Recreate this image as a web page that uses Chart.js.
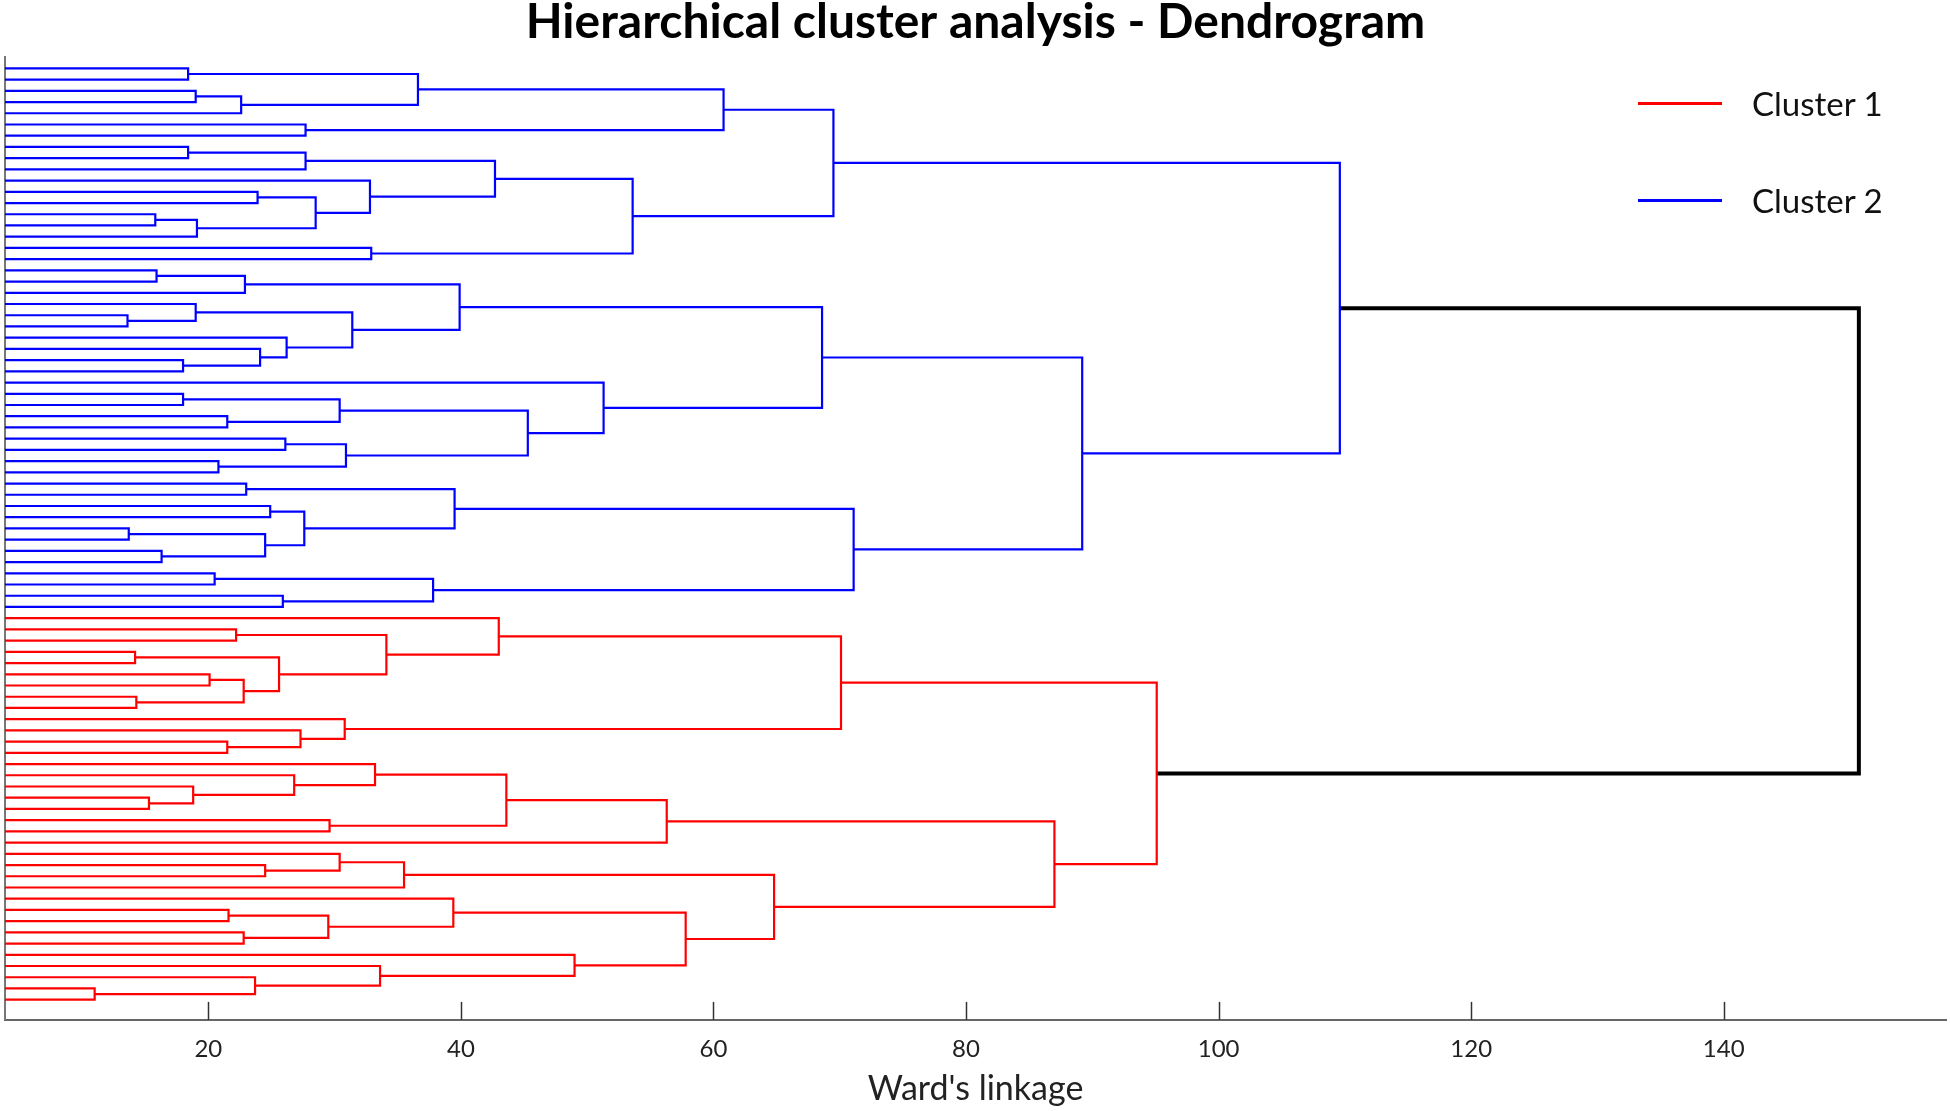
<!DOCTYPE html>
<html>
<head>
<meta charset="utf-8">
<title>Dendrogram</title>
<script src="https://cdn.jsdelivr.net/npm/chart.js@4.4.1/dist/chart.umd.min.js"></script>
<style>
  html, body { margin: 0; padding: 0; background: #fff; }
  #wrap { position: relative; width: 1950px; height: 1111px; }
  #legend { position: absolute; left: 0; top: 0; font-family: Lato, sans-serif; font-size: 33px; color: #111; }
  .item { position: absolute; display: flex; align-items: center; white-space: nowrap; line-height: 40px; height: 40px; }
  .swatch { width: 84px; height: 3px; margin-right: 30px; }
</style>
</head>
<body>
<div id="wrap">
  <canvas id="chart" width="1950" height="1111"></canvas>
  <div id="legend"></div>
</div>
<script>
// leaves are numbered 1..84 from top to bottom
const leafCount = 84;

const clusterNames = ['Cluster 1', 'Cluster 2'];
const clusterColors = ['#ff0000', '#0000ff'];
const rootColor = '#000000';

// each merge makes a new node, numbered from 85 in this order
const mergeA = [
  1, 3, 86, 85, 6, 88, 8, 91, 12, 14, 94, 93, 11, 92, 17, 98, 90,
  19, 102, 23, 22, 27, 26, 25, 105, 103, 30, 32, 111, 34, 36, 114, 113, 29, 110,
  38, 40, 42, 44, 122, 121, 120, 46, 48, 127, 126, 119, 101,
  51, 53, 55, 57, 135, 134, 133, 50, 61, 60, 59, 140,
  66, 65, 64, 63, 68, 148, 150, 72, 71, 153, 76, 78, 155, 75, 83, 82, 81, 80, 158, 154, 151, 144,
  132
];
const mergeB = [
  2, 4, 5, 87, 7, 89, 9, 10, 13, 15, 16, 95, 96, 97, 18, 99, 100,
  20, 21, 24, 104, 28, 106, 107, 108, 109, 31, 33, 112, 35, 37, 115, 116, 117, 118,
  39, 41, 43, 45, 123, 124, 125, 47, 49, 128, 129, 130, 131,
  52, 54, 56, 58, 136, 137, 138, 139, 62, 141, 142, 143,
  67, 145, 146, 147, 69, 149, 70, 73, 152, 74, 77, 79, 156, 157, 84, 159, 160, 161, 162, 163, 164, 165,
  166
];
const mergeHeight = [
  18.4, 19.0, 22.6, 36.6, 27.7, 60.8, 18.4, 27.7, 23.9, 15.8, 19.1, 28.5, 32.8, 42.7, 32.9, 53.6, 69.5,
  15.9, 22.9, 13.6, 19.0, 18.0, 24.1, 26.2, 31.4, 39.9, 18.0, 21.5, 30.4, 26.1, 20.8, 30.9, 45.3, 51.3, 68.6,
  23.0, 24.9, 13.7, 16.3, 24.5, 27.6, 39.5, 20.5, 25.9, 37.8, 71.1, 89.2, 109.6,
  22.2, 14.2, 20.1, 14.3, 22.8, 25.6, 34.1, 43.0, 21.5, 27.3, 30.8, 70.1,
  15.3, 18.8, 26.8, 33.2, 29.6, 43.6, 56.3, 24.5, 30.4, 35.5, 21.6, 22.8, 29.5, 39.4, 11.0, 23.7, 33.6, 49.0, 57.8, 64.8, 87.0, 95.1,
  150.7
];
// 0 = cluster 1 (red), 1 = cluster 2 (blue), 2 = root link
const mergeGroup = [
  1, 1, 1, 1, 1, 1, 1, 1, 1, 1, 1, 1, 1, 1, 1, 1, 1,
  1, 1, 1, 1, 1, 1, 1, 1, 1, 1, 1, 1, 1, 1, 1, 1, 1, 1,
  1, 1, 1, 1, 1, 1, 1, 1, 1, 1, 1, 1, 1,
  0, 0, 0, 0, 0, 0, 0, 0, 0, 0, 0, 0,
  0, 0, 0, 0, 0, 0, 0, 0, 0, 0, 0, 0, 0, 0, 0, 0, 0, 0, 0, 0, 0, 0,
  2
];
const xTicks = [20, 40, 60, 80, 100, 120, 140];

// node position (leaf slot) and height
const pos = {}, hgt = {};
for (let i = 1; i <= leafCount; i++) { pos[i] = i; hgt[i] = 0; }
const segs = [[], [], []];
mergeA.forEach((a, k) => {
  const b = mergeB[k], h = mergeHeight[k], id = leafCount + 1 + k;
  pos[id] = (pos[a] + pos[b]) / 2;
  hgt[id] = h;
  segs[mergeGroup[k]].push(
    {x: hgt[a], y: pos[a]}, {x: h, y: pos[a]}, {x: h, y: pos[b]}, {x: hgt[b], y: pos[b]}, {x: null, y: null}
  );
});

const mkSet = (label, data, color, width) => ({
  label, data, borderColor: color, backgroundColor: color, borderWidth: width,
  showLine: true, spanGaps: false, pointRadius: 0, tension: 0
});

// short inward tick marks on the x axis
const tickMarks = {
  id: 'tickMarks',
  afterDraw(chart) {
    const {ctx, scales: {x}} = chart;
    ctx.save();
    ctx.strokeStyle = '#333';
    ctx.lineWidth = 1.5;
    xTicks.forEach(v => {
      const px = Math.round(x.getPixelForValue(v)) + 0.5;
      ctx.beginPath();
      ctx.moveTo(px, x.top);
      ctx.lineTo(px, x.top - 18);
      ctx.stroke();
    });
    ctx.restore();
  }
};

new Chart(document.getElementById('chart'), {
  type: 'scatter',
  data: {
    datasets: [
      mkSet(clusterNames[1], segs[1], clusterColors[1], 2.2),
      mkSet(clusterNames[0], segs[0], clusterColors[0], 2.2),
      mkSet('root', segs[2], rootColor, 4)
    ]
  },
  options: {
    responsive: false,
    animation: false,
    layout: { padding: { left: 5, right: 4, top: 0, bottom: 10 } },
    plugins: {
      legend: { display: false },
      tooltip: { enabled: false },
      title: {
        display: true,
        text: 'Hierarchical cluster analysis - Dendrogram',
        color: '#000',
        font: { family: 'Lato', size: 48, weight: 'bold', lineHeight: 0.92 },
        padding: { top: 0, bottom: 13 }
      }
    },
    scales: {
      x: {
        type: 'linear', min: 3.9, max: 157.6,
        afterBuildTicks: s => { s.ticks = xTicks.map(v => ({value: v})); },
        grid: { display: false, drawTicks: false },
        border: { display: true, color: '#666', width: 2 },
        ticks: { color: '#222', padding: 17, font: { family: 'Lato', size: 24, lineHeight: 1 } },
        title: {
          display: true, text: "Ward's linkage", color: '#222',
          font: { family: 'Lato', size: 34, lineHeight: 0.68 }, padding: { top: 0, bottom: 0 }
        }
      },
      y: {
        type: 'linear', reverse: true, min: 0, max: 85.8,
        ticks: { display: false },
        grid: { display: false, drawTicks: false },
        border: { display: true, color: '#777', width: 2 }
      }
    }
  },
  plugins: [tickMarks]
});

// legend in the top right corner
const legendEl = document.getElementById('legend');
[{name: clusterNames[0], color: clusterColors[0], top: 83},
 {name: clusterNames[1], color: clusterColors[1], top: 180}].forEach(it => {
  const row = document.createElement('div');
  row.className = 'item';
  row.style.left = '1638px';
  row.style.top = it.top + 'px';
  row.innerHTML = `<span class="swatch" style="background:${it.color}"></span><span>${it.name}</span>`;
  legendEl.appendChild(row);
});
</script>
</body>
</html>
